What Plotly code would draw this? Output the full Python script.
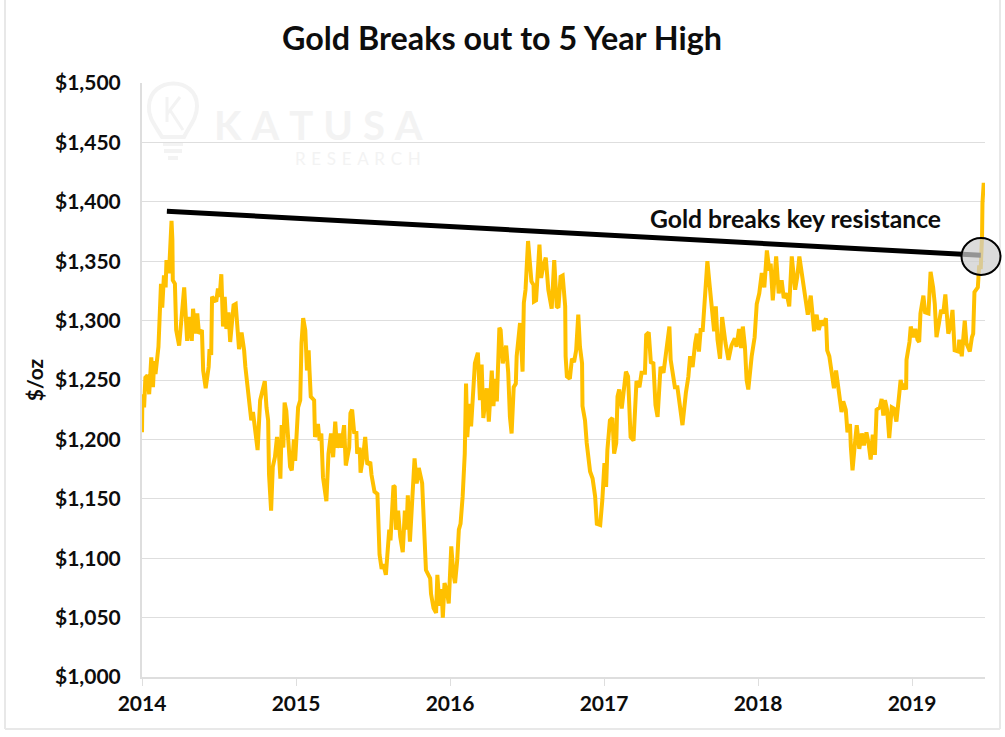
import plotly.graph_objects as go

# days since 1 Jan 2014, gold price in $/oz
days = [0,1,5,8,13,17,22,26,29,32,39,43,45,48,52,56,58,64,70,72,73,78,81,88,93,100,107,113,118,121,127,131,135,142,145,151,158,160,164,166,176,180,184,188,192,196,200,205,209,217,222,230,236,242,245,249,254,259,263,268,274,280,285,291,295,299,301,306,310,315,320,324,328,331,335,338,342,346,351,355,360,363,370,375,378,382,387,391,395,397,400,408,410,417,421,425,429,437,442,448,453,458,462,469,472,479,483,491,494,498,503,508,510,516,518,524,529,534,541,
544,551,558,563,568,572,578,586,589,596,599,602,607,612,618,623,627,630,635,642,646,651,656,664,667,671,673,683,685,691,697,700,705,710,713,717,722,727,733,738,742,747,751,755,760,765,768,771,776,780,784,789,796,801,805,809,817,822,829,833,837,841,847,850,855,863,868,872,876,881,886,888,896,899,902,905,909,915,920,923,928,929,934,938,942,946,951,957,963,971,977,983,987,992,997,1003,1004,1007,1014,1019,1024,1029,1034,1038,1043,1044,1050,1054,1058,1062,1068,1074,1078,1086,1091,1096,1100,1103,1109,1115,1119,1124,1127,1131,1137,1141,1147,1152,1158,1165,1168,1172,1179,1184,1192,1195,1201,1206,1212,1217,1222,1229,1236,1240,1245,1250,1253,1263,1269,1277,1281,1289,
1295,1299,1305,1311,1315,1320,1324,1329,1334,1340,1345,1350,1356,1360,1364,1370,1375,1383,1390,1397,1405,1409,1415,1420,1424,1429,1433,1437,1445,1452,1457,1463,1469,1475,1481,1487,1490,1495,1503,1509,1516,1521,1528,1534,1540,1548,1553,1558,1563,1569,1574,1578,1585,1593,1599,1604,1610,1615,1621,1624,1629,1636,1640,1645,1653,1658,1662,1668,1672,1678,1680,1684,1689,1694,1700,1706,1711,1717,1722,1727,1732,1737,1741,1749,1753,1757,1761,1766,1771,1777,1782,1788,1795,1798,1803,1806,1811,1812,1819,1822,1828,1833,1838,1842,1845,1852,1856,1864,1869,1875,1879,1883,1889,1894,1899,1904,1911,1916,1921,1926,1935,1937,1943,1950,1954,1962,1967,1970,1973,1981,1984,1988,1991,1992,1995]
price = [1206,1238,1227,1252,1254,1238,1269,1244,1266,1255,1278,1311,1331,1311,1338,1328,1351,1340,1384,1368,1334,1331,1292,1279,1297,1328,1283,1303,1283,1310,1289,1306,1289,1292,1258,1243,1261,1276,1271,1320,1316,1327,1320,1339,1295,1320,1293,1307,1282,1313,1314,1276,1290,1275,1261,1250,1230,1216,1223,1209,1191,1233,1241,1249,1227,1216,1171,1140,1177,1185,1202,1191,1167,1212,1193,1231,1224,1199,1177,1174,1200,1182,1227,1233,1281,1302,1292,1258,1275,1258,1236,1233,1202,1213,1199,1205,1168,1148,1188,1205,1185,1215,1193,1205,1193,1212,1178,1193,1222,1225,1205,1207,1188,1193,1172,1185,1202,1179,1181,
1170,1156,1154,1103,1091,1095,1086,1124,1115,1161,1160,1124,1140,1118,1105,1140,1124,1153,1114,1154,1184,1163,1176,1163,1138,1107,1090,1083,1070,1058,1054,1086,1060,1074,1050,1079,1073,1062,1110,1087,1079,1098,1124,1129,1152,1188,1247,1202,1230,1211,1230,1264,1273,1233,1263,1218,1243,1215,1258,1228,1251,1232,1294,1292,1264,1279,1256,1219,1205,1244,1247,1270,1298,1267,1257,1315,1326,1367,1348,1333,1330,1316,1317,1347,1364,1336,1346,1353,1326,1310,1351,1312,1311,1337,1338,1312,1270,1253,1251,1268,1265,1275,1305,1278,1264,1228,1216,1197,1183,1173,1167,1152,1129,1128,1149,1180,1160,1191,1216,1218,1188,1197,1236,1242,1226,1239,1257,1253,1202,1199,1230,1249,1244,1256,1256,1288,1290,1265,1264,1229,1219,1261,1256,1267,1279,1295,1267,1244,1244,1219,1212,1239,
1253,1270,1261,1281,1289,1274,1292,1292,1323,1350,1331,1314,1291,1312,1284,1268,1303,1281,1267,1279,1285,1278,1293,1277,1295,1278,1250,1242,1270,1286,1314,1323,1340,1328,1359,1342,1348,1317,1354,1323,1334,1319,1323,1312,1354,1326,1337,1354,1342,1331,1317,1305,1321,1291,1305,1292,1300,1296,1302,1275,1270,1251,1243,1258,1236,1223,1232,1225,1206,1213,1194,1174,1194,1212,1192,1205,1195,1206,1197,1183,1204,1187,1225,1227,1234,1220,1233,1225,1201,1227,1226,1215,1239,1250,1242,1247,1242,1267,1282,1295,1286,1293,1284,1282,1306,1321,1307,1306,1341,1328,1314,1286,1298,1309,1306,1322,1289,1295,1309,1275,1274,1284,1270,1300,1281,1274,1286,1289,1324,1328,1345,1345,1371,1399,1416]

resistance_days = [59, 1988]
resistance_price = [1392, 1355]
year_ticks = [0, 365, 730, 1095, 1460, 1825]
year_labels = ["2014", "2015", "2016", "2017", "2018", "2019"]
y_ticks = list(range(1000, 1501, 50))

FONT = "Lato"
INK = "#0d0d0d"
GRID = "#dedede"
WM = "#f3f3f3"

W, H = 1005, 737
L, R, T, B = 142, 985, 83, 677
def px(x): return (x - L) / (R - L)
def py(y): return (B - y) / (B - T)

fig = go.Figure()
fig.add_trace(go.Scatter(x=days, y=price, mode="lines", showlegend=False,
                         line=dict(color="#FFC000", width=4)))
fig.add_trace(go.Scatter(x=resistance_days, y=resistance_price, mode="lines", showlegend=False,
                         line=dict(color="#000000", width=5)))

shapes = [
    # outer frame
    dict(type="line", xref="paper", yref="paper", x0=px(5), x1=px(5), y0=py(0), y1=py(729), line=dict(color="#e8e8e8", width=2), layer="below"),
    dict(type="line", xref="paper", yref="paper", x0=px(5), x1=px(1000), y0=py(729), y1=py(729), line=dict(color="#e8e8e8", width=2), layer="below"),
    dict(type="line", xref="paper", yref="paper", x0=px(1000), x1=px(1000), y0=py(0), y1=py(729), line=dict(color="#e8e8e8", width=2), layer="below"),
    # breakout circle
    dict(type="circle", xref="paper", yref="paper", x0=px(961.5), x1=px(1000.5), y0=py(238), y1=py(275),
         fillcolor="rgba(205,205,205,0.72)", line=dict(color="#000000", width=2), layer="above"),
    # watermark bulb
    dict(type="path", xref="paper", yref="paper", layer="below", line=dict(color=WM, width=4),
         path=f"M {px(162)} {py(137)} C {px(155)} {py(125)} {px(148)} {py(118)} {px(149)} {py(106)} "
              f"C {px(150)} {py(76)} {px(197)} {py(76)} {px(197)} {py(106)} "
              f"C {px(197)} {py(118)} {px(190)} {py(125)} {px(184)} {py(137)} Z"),
    dict(type="line", xref="paper", yref="paper", layer="below", x0=px(163), x1=px(183), y0=py(144), y1=py(144), line=dict(color=WM, width=4)),
    dict(type="line", xref="paper", yref="paper", layer="below", x0=px(164), x1=px(182), y0=py(151), y1=py(151), line=dict(color=WM, width=4)),
    dict(type="line", xref="paper", yref="paper", layer="below", x0=px(168), x1=px(178), y0=py(158), y1=py(158), line=dict(color=WM, width=4)),
    dict(type="line", xref="paper", yref="paper", layer="below", x0=px(167), x1=px(167), y0=py(97), y1=py(122), line=dict(color=WM, width=3)),
    dict(type="line", xref="paper", yref="paper", layer="below", x0=px(167), x1=px(180), y0=py(114), y1=py(97), line=dict(color=WM, width=3)),
    dict(type="line", xref="paper", yref="paper", layer="below", x0=px(170), x1=px(183), y0=py(110), y1=py(130), line=dict(color=WM, width=3)),
]

annotations = [
    dict(text="Gold breaks key resistance", xref="paper", yref="paper", x=px(795), y=py(218),
         xanchor="center", yanchor="middle", showarrow=False,
         font=dict(family=FONT, size=24.7, color=INK, weight=700)),
    dict(text="K\u2005A\u2005T\u2005U\u2005S\u2005A", xref="paper", yref="paper", x=px(318), y=py(125),
         xanchor="center", yanchor="middle", showarrow=False,
         font=dict(family=FONT, size=40, color=WM, weight=700)),
    dict(text="R\u2004E\u2004S\u2004E\u2004A\u2004R\u2004C\u2004H", xref="paper", yref="paper", x=px(358), y=py(158),
         xanchor="center", yanchor="middle", showarrow=False,
         font=dict(family=FONT, size=17, color=WM)),
]

fig.update_layout(
    width=W, height=H, paper_bgcolor="white", plot_bgcolor="white",
    margin=dict(l=L, r=W - R, t=T, b=H - B),
    title=dict(text="Gold Breaks out to 5 Year High", x=502 / W, xanchor="center", y=1 - 39 / H, yanchor="middle",
               font=dict(family=FONT, size=32.3, color=INK, weight=700)),
    xaxis=dict(range=[0, 1998], tickvals=year_ticks, ticktext=year_labels, showgrid=False, zeroline=False,
               showline=True, linecolor=GRID, linewidth=1.5, ticks="outside", ticklen=7, tickcolor=GRID, tickwidth=1,
               tickfont=dict(family=FONT, size=21, color=INK, weight=700)),
    yaxis=dict(range=[1000, 1500], tickvals=y_ticks, tickformat="$,.0f", showgrid=True, gridcolor=GRID, gridwidth=1,
               zeroline=False, showline=True, linecolor=GRID, linewidth=2, ticks="", ticklabelstandoff=15,
               tickfont=dict(family=FONT, size=21, color=INK, weight=700),
               title=dict(text="$/oz", standoff=6, font=dict(family=FONT, size=21, color=INK, weight=700))),
    shapes=shapes, annotations=annotations,
)

fig.write_html("out.html", post_script="document.body.style.margin='0';document.documentElement.style.overflow='hidden';",
               config=dict(displayModeBar=False))
